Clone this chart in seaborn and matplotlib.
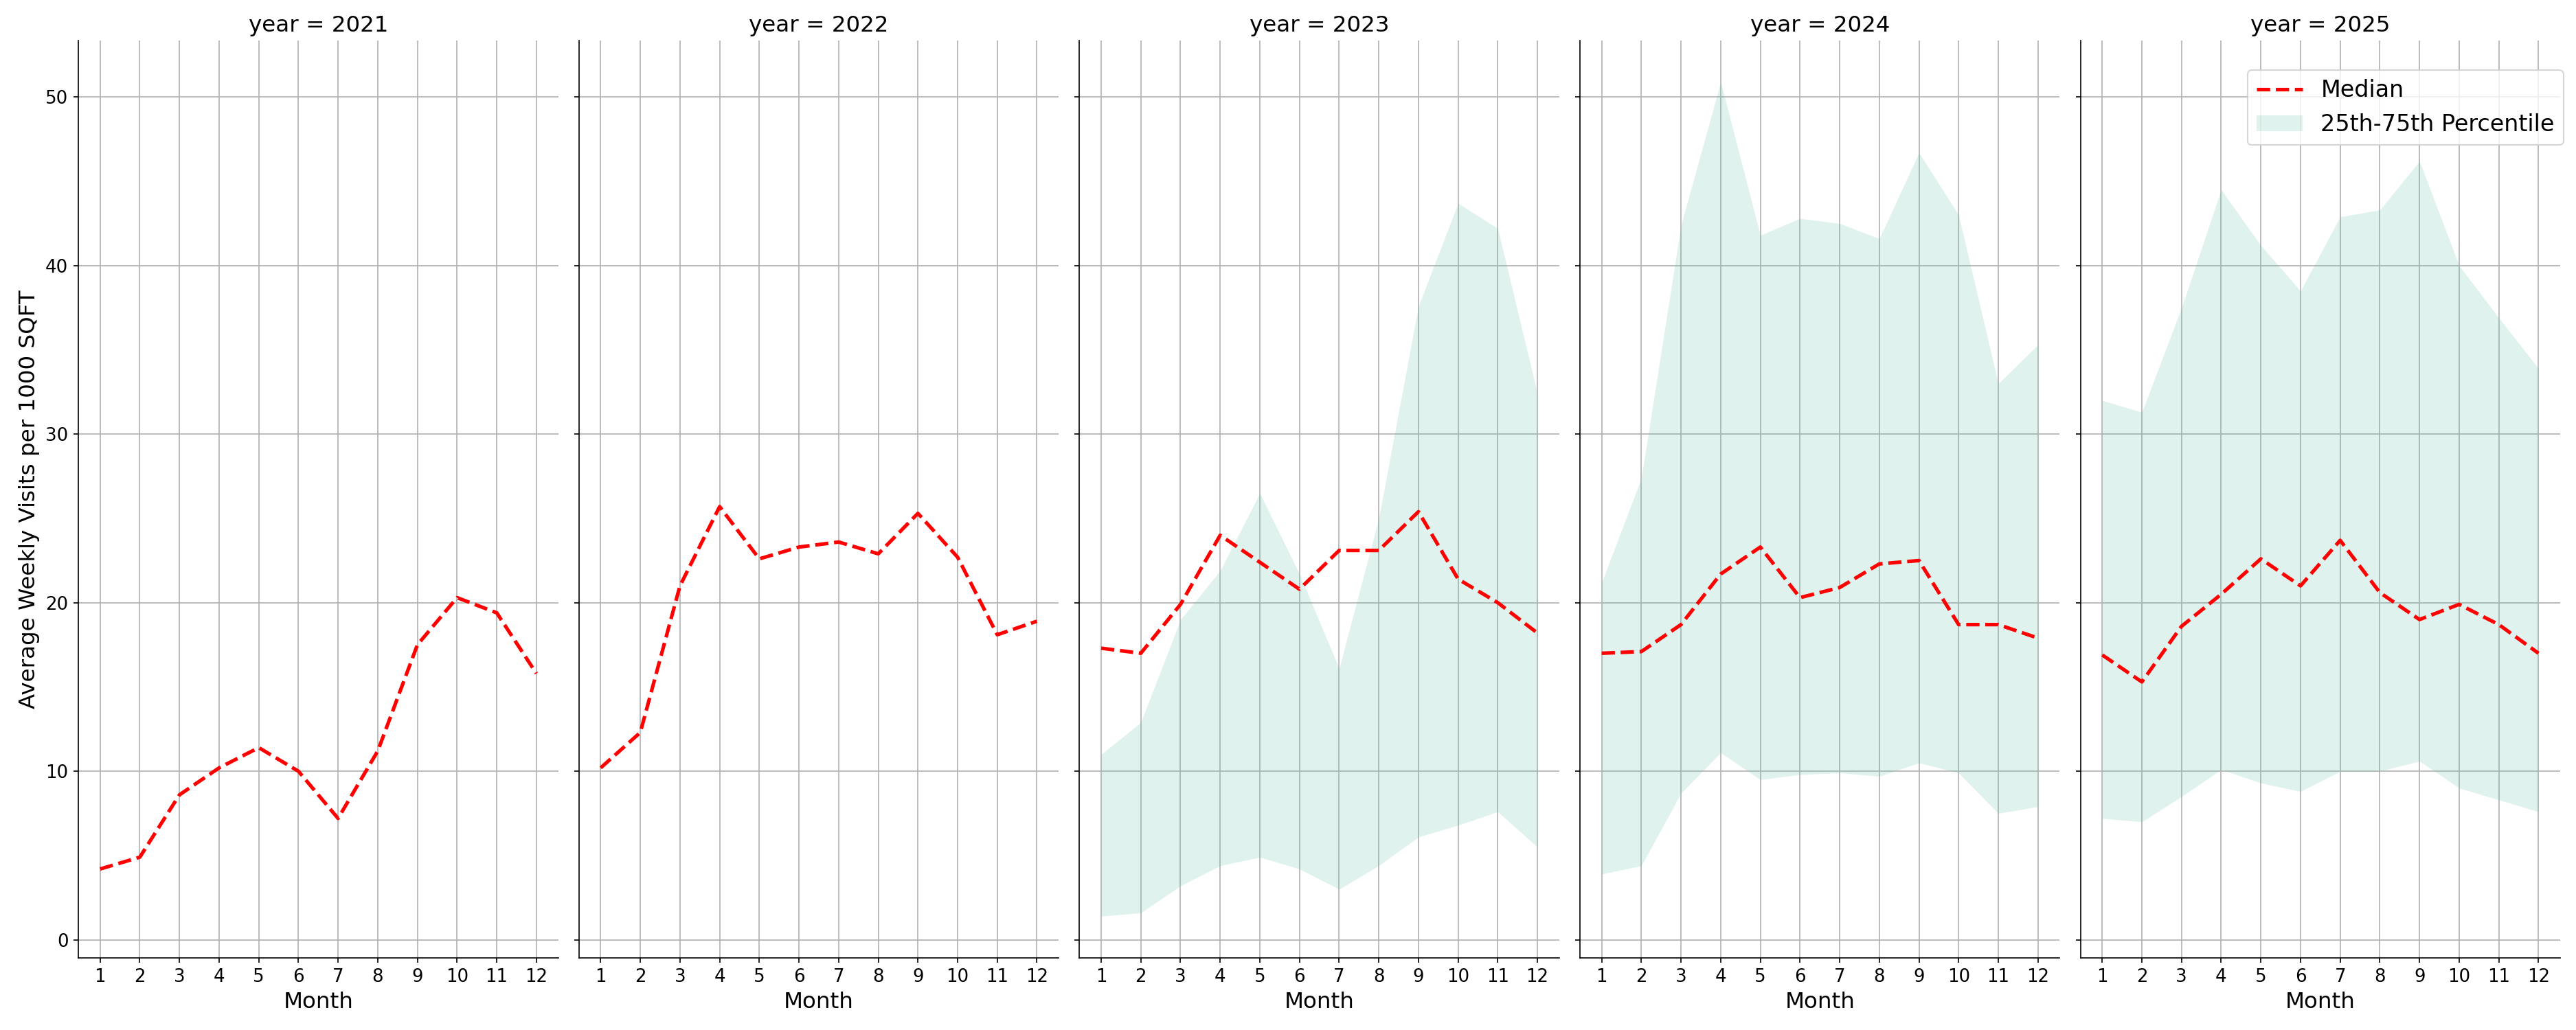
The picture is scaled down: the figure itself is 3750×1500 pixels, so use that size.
import matplotlib
matplotlib.use("Agg")
import matplotlib.pyplot as plt
from matplotlib.lines import Line2D
from matplotlib.patches import Patch
import seaborn as sns
import numpy as np
import pandas as pd

# months and years shown in the facets
months = list(range(1, 13))
years = [2021, 2022, 2023, 2024, 2025]

# median of average weekly visits per 1000 sqft
median_2021 = [4.2, 4.9, 8.6, 10.2, 11.4, 10.0, 7.2, 11.2, 17.5, 20.3, 19.4, 15.8]
median_2022 = [10.2, 12.3, 21.0, 25.7, 22.6, 23.3, 23.6, 22.9, 25.3, 22.7, 18.1, 18.9]
median_2023 = [17.3, 17.0, 19.9, 24.0, 22.4, 20.8, 23.1, 23.1, 25.4, 21.4, 20.0, 18.2]
median_2024 = [17.0, 17.1, 18.7, 21.7, 23.3, 20.3, 20.9, 22.3, 22.5, 18.7, 18.7, 17.9]
median_2025 = [16.9, 15.3, 18.6, 20.5, 22.6, 21.0, 23.7, 20.6, 19.0, 19.9, 18.7, 17.0]

# 25th / 75th percentiles (no band for 2021 and 2022)
nan12 = [np.nan] * 12
p25_2023 = [1.4, 1.6, 3.2, 4.4, 4.9, 4.2, 3.0, 4.4, 6.1, 6.8, 7.6, 5.5]
p75_2023 = [11.0, 12.9, 19.0, 21.9, 26.5, 21.7, 16.1, 25.0, 37.6, 43.7, 42.2, 32.4]
p25_2024 = [3.9, 4.4, 8.7, 11.1, 9.5, 9.8, 9.9, 9.7, 10.5, 9.9, 7.5, 7.9]
p75_2024 = [21.2, 27.4, 42.4, 50.9, 41.8, 42.8, 42.5, 41.6, 46.7, 43.0, 33.0, 35.3]
p25_2025 = [7.2, 7.0, 8.5, 10.1, 9.3, 8.8, 10.0, 10.0, 10.6, 9.0, 8.3, 7.6]
p75_2025 = [32.0, 31.3, 37.5, 44.5, 41.2, 38.5, 42.9, 43.3, 46.2, 40.0, 36.9, 33.9]

medians = [median_2021, median_2022, median_2023, median_2024, median_2025]
p25s = [nan12, nan12, p25_2023, p25_2024, p25_2025]
p75s = [nan12, nan12, p75_2023, p75_2024, p75_2025]

rows = []
for y, med, lo, hi in zip(years, medians, p25s, p75s):
    for m, a, b, c in zip(months, med, lo, hi):
        rows.append({'year': y, 'month': m, 'median': a, 'p25': b, 'p75': c})
df = pd.DataFrame(rows)

band_color = '#66c2a5'


def draw_panel(data, **kws):
    ax = plt.gca()
    ax.fill_between(data['month'], data['p25'], data['p75'],
                    color=band_color, alpha=0.2, linewidth=0, zorder=2)
    sns.lineplot(data=data, x='month', y='median', ax=ax, color='red',
                 linestyle='--', linewidth=2.5, zorder=3)
    ax.grid(True, color='#b0b0b0', linewidth=0.8, zorder=1)
    ax.set_axisbelow(True)


g = sns.FacetGrid(df, col='year', height=10, aspect=0.5, sharey=True)
g.map_dataframe(draw_panel)
g.set_titles(size=15.6)
g.set_axis_labels('Month', 'Average Weekly Visits per 1000 SQFT', fontsize=15.6)

for ax in g.axes.flat:
    ax.set_xticks(months)
    ax.tick_params(axis='both', labelsize=12.5)
    ax.tick_params(axis='y', left=True)

handles = [Line2D([0], [0], color='red', linestyle='--', linewidth=2.5),
           Patch(facecolor=band_color, alpha=0.2, edgecolor='none')]
g.axes.flat[-1].legend(handles, ['Median', '25th-75th Percentile'],
                       loc='upper right', fontsize=16, borderaxespad=0,
                       bbox_to_anchor=(0.9952, 0.932),
                       bbox_transform=g.figure.transFigure)

g.figure.set_size_inches(25, 10)
g.figure.subplots_adjust(left=0.0304, right=0.9939, top=0.961, bottom=0.07, wspace=0.043)
g.figure.savefig('out.png', dpi=150)
